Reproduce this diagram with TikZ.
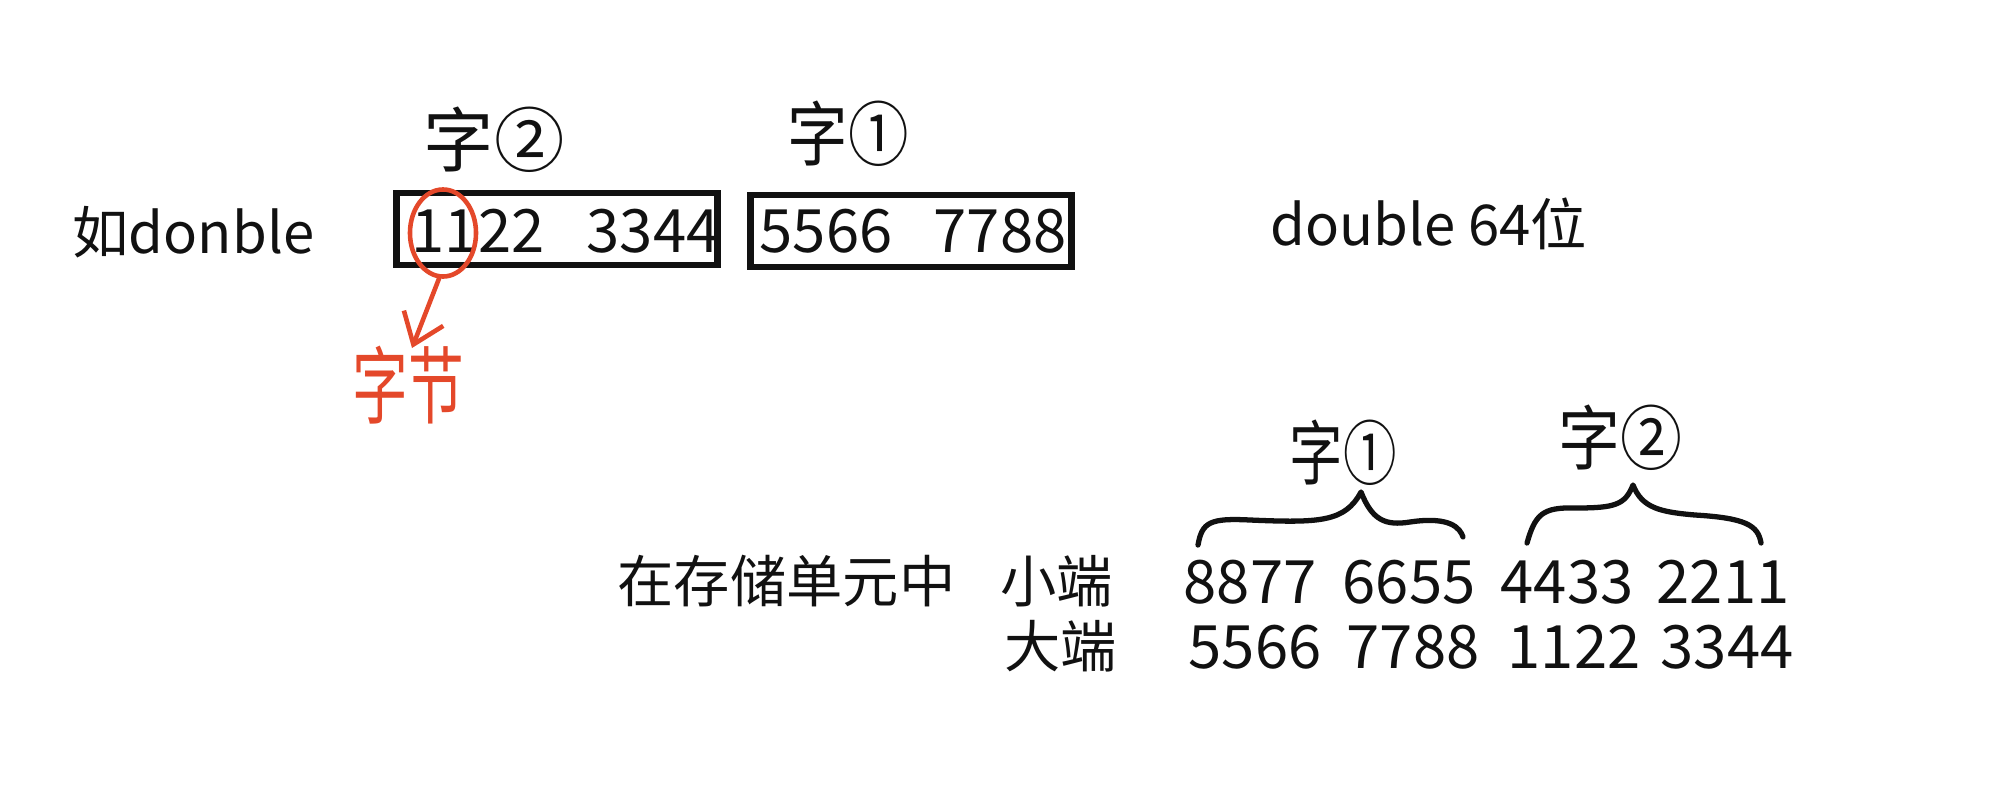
\documentclass[tikz,border=0pt]{standalone}
\usepackage{fontspec}
\setmainfont{Noto Sans CJK SC}
\usetikzlibrary{positioning,shapes.geometric,arrows.meta}
\definecolor{memInk}{HTML}{111111}
\definecolor{memRed}{RGB}{228,72,42}
\newcommand{\handw}[2]{\scalebox{#1}[1]{#2}}
\tikzset{
    memBox/.style={
        rectangle,
        draw=memInk,
        line width=1.9pt,
        minimum width=3.21cm,
        minimum height=0.72cm,
        inner sep=0pt
    },
    % Text
    txt/.style={font=\fontsize{16}{19}\selectfont, inner sep=0pt, text=memInk},
    numTxt/.style={font=\fontsize{17}{20}\selectfont, inner sep=0pt, text=memInk},
    handTxt/.style={font=\fontsize{20}{24}\selectfont, inner sep=0pt, text=memInk},
    handRed/.style={font=\fontsize{24}{28}\selectfont, inner sep=0pt, text=memRed},
    % Strokes
    handBrace/.style={draw=memInk, line width=1.5pt, line cap=round, line join=round},
    redArr/.style={-{Straight Barb[length=8pt,width=12pt]}, line width=1.3pt, draw=memRed, line cap=round}
}

\begin{document}
\begin{tikzpicture}[x=0.01cm, y=-0.01cm]
\useasboundingbox (0,0) rectangle (1998,809);

% the double, as two words
\node[txt, anchor=base west] (dbl) at (72,253) {如donble};
\node[memBox] (word2) at (557,229) {};
\node[memBox] (word1) at (911,231) {};
\node[numTxt, anchor=base] (a1122) at (478,252) {1122};
\node[numTxt, anchor=base] (a3344) at (653,252) {3344};
\node[numTxt, anchor=base] (a5566) at (826,252) {5566};
\node[numTxt, anchor=base] (a7788) at (1000,252) {7788};
\node[handTxt] (w2top) at (494,140) {字②};
\node[handTxt] (w1top) at (848,134) {\handw{0.86}{字①}};
\node[txt, anchor=base west] (bits) at (1270,245) {double 64位};

% one byte
\node[ellipse, draw=memRed, line width=1.3pt, minimum width=0.66cm, minimum height=0.87cm, inner sep=0pt] (byteMark) at (443,233) {};
\node[handRed] (byteLbl) at (408,385) {\handw{0.66}{字节}};
\coordinate (byteTip) at (412,348);
\draw[redArr] (byteMark.-95) -- (byteTip);

% order in memory
\node[txt, anchor=base west] (store) at (617,602) {在存储单元中};
\node[txt, anchor=base west] (little) at (1000,602) {小端};
\node[txt, anchor=base west] (big) at (1004,667) {大端};
\node[numTxt, anchor=base] (l8877) at (1250,603) {8877};
\node[numTxt, anchor=base] (l6655) at (1409,603) {6655};
\node[numTxt, anchor=base] (l4433) at (1567,603) {4433};
\node[numTxt, anchor=base] (l2211) at (1723,603) {2211};
\node[numTxt, anchor=base] (g5566) at (1255,668) {5566};
\node[numTxt, anchor=base] (g7788) at (1413,668) {7788};
\node[numTxt, anchor=base] (g1122) at (1574,668) {1122};
\node[numTxt, anchor=base] (g3344) at (1727,668) {3344};

% braces
\draw[handBrace] (1198,545) .. controls (1202,522) and (1210,518) .. (1250,520)
    .. controls (1320,523) and (1345,522) .. (1361,492)
    .. controls (1372,520) and (1385,526) .. (1410,522)
    .. controls (1450,516) and (1460,528) .. (1463,537);
\draw[handBrace] (1527,543) .. controls (1535,515) and (1542,507) .. (1575,508)
    .. controls (1615,508) and (1625,505) .. (1633,485)
    .. controls (1642,508) and (1660,512) .. (1695,515)
    .. controls (1745,518) and (1758,525) .. (1761,543);
\node[handTxt] (w1bot) at (1343,453) {\handw{0.76}{字①}};
\node[handTxt] (w2bot) at (1620,438) {\handw{0.88}{字②}};
\end{tikzpicture}
\end{document}
